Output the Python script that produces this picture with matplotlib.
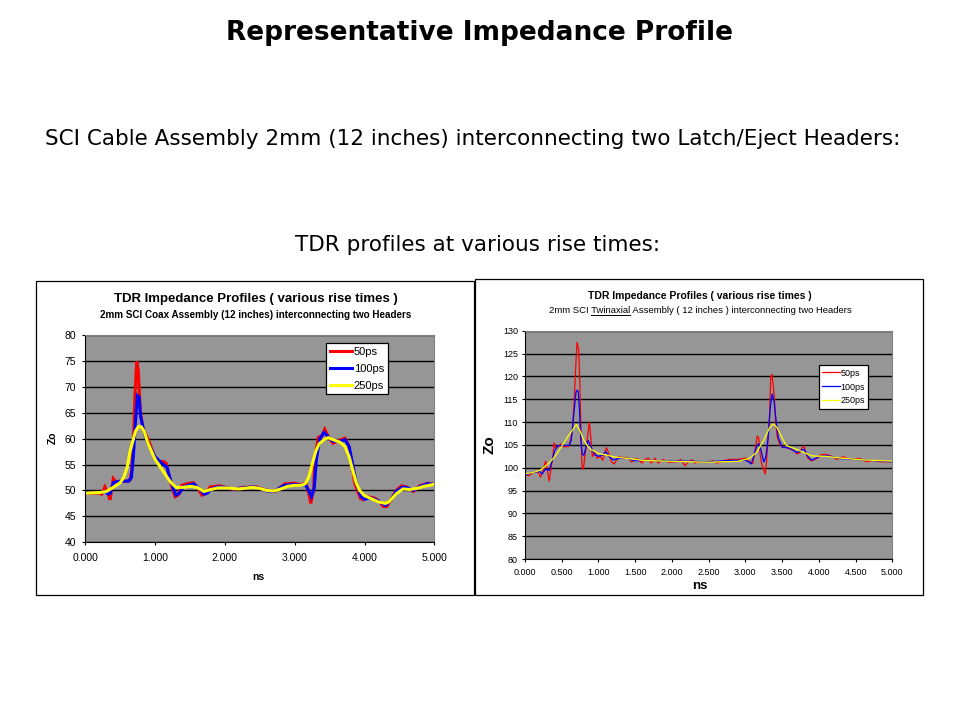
import numpy as np
import matplotlib
matplotlib.use("Agg")
import matplotlib.pyplot as plt
from matplotlib.lines import Line2D
from matplotlib.patches import Rectangle
from matplotlib.ticker import FormatStrFormatter, MultipleLocator

# --- left chart: 2mm SCI coax assembly (Zo vs ns)
coax_50_ns = [0.00, 0.10, 0.21, 0.235, 0.28, 0.33, 0.354, 0.40, 0.45, 0.50,
              0.59, 0.64, 0.665, 0.69, 0.71, 0.736, 0.76, 0.774, 0.79, 0.83,
              0.88, 0.93, 1.00, 1.05, 1.12, 1.16, 1.19, 1.24, 1.285, 1.33,
              1.38, 1.45, 1.55, 1.60, 1.67, 1.71, 1.79, 1.93, 2.12, 2.26,
              2.45, 2.58, 2.72, 2.86, 3.00, 3.10, 3.16, 3.20, 3.23, 3.27,
              3.29, 3.34, 3.39, 3.43, 3.48, 3.55, 3.62, 3.72, 3.77, 3.82,
              3.86, 3.94, 3.98, 4.05, 4.15, 4.22, 4.27, 4.32, 4.39, 4.46,
              4.53, 4.60, 4.70, 4.79, 4.91, 5.00]
coax_50_zo = [49.6, 49.5, 49.5, 49.3, 50.7, 49.1, 48.2, 52.3, 51.5, 51.8,
              51.8, 52.0, 54.0, 59.7, 68.1, 74.9, 73.0, 68.7, 65.0, 61.7,
              60.4, 58.8, 56.2, 55.6, 55.6, 55.2, 53.3, 50.7, 48.8, 49.1,
              51.0, 51.3, 51.5, 50.7, 49.1, 49.3, 50.7, 50.9, 50.2, 50.6,
              50.7, 50.1, 49.8, 51.3, 51.4, 51.1, 51.5, 49.5, 47.5, 50.1,
              56.5, 60.3, 60.5, 61.8, 60.4, 59.1, 59.6, 60.1, 58.8, 55.2,
              51.4, 48.5, 48.2, 48.8, 48.5, 47.8, 46.9, 46.9, 48.5, 50.1,
              50.9, 50.7, 49.8, 50.9, 51.4, 51.1]

coax_100_ns = [0.00, 0.20, 0.28, 0.33, 0.36, 0.40, 0.45, 0.50, 0.62, 0.66,
               0.69, 0.72, 0.745, 0.77, 0.79, 0.82, 0.86, 0.90, 1.00, 1.10,
               1.17, 1.22, 1.27, 1.30, 1.35, 1.40, 1.50, 1.55, 1.62, 1.70,
               1.75, 1.80, 1.90, 2.00, 2.10, 2.20, 2.30, 2.40, 2.50, 2.60,
               2.70, 2.85, 3.00, 3.10, 3.15, 3.20, 3.24, 3.28, 3.31, 3.36,
               3.42, 3.47, 3.55, 3.65, 3.72, 3.78, 3.83, 3.88, 3.95, 4.00,
               4.08, 4.20, 4.30, 4.38, 4.46, 4.55, 4.62, 4.70, 4.80, 4.90,
               5.00]
coax_100_zo = [49.6, 49.6, 49.8, 49.3, 49.5, 51.5, 51.7, 51.8, 51.8, 52.5,
               57.0, 63.6, 68.3, 68.0, 64.5, 62.5, 60.5, 59.0, 56.5, 55.2,
               54.5, 52.0, 50.0, 49.1, 49.5, 50.7, 51.1, 51.3, 50.5, 49.3,
               49.5, 50.3, 50.7, 50.6, 50.3, 50.4, 50.5, 50.7, 50.4, 49.9,
               49.8, 51.0, 51.2, 51.0, 51.2, 50.0, 48.8, 50.5, 56.0, 60.0,
               61.2, 60.5, 59.5, 59.5, 59.8, 58.5, 55.0, 51.5, 48.8, 48.3,
               48.6, 48.0, 47.1, 48.2, 49.9, 50.7, 50.5, 50.0, 50.8, 51.3,
               51.2]

coax_250_ns = [0.00, 0.20, 0.30, 0.40, 0.50, 0.55, 0.60, 0.64, 0.68, 0.72,
               0.76, 0.80, 0.84, 0.90, 0.95, 1.00, 1.10, 1.20, 1.25, 1.30,
               1.40, 1.50, 1.60, 1.70, 1.80, 1.90, 2.00, 2.20, 2.40, 2.50,
               2.60, 2.70, 2.80, 2.90, 3.00, 3.10, 3.15, 3.20, 3.25, 3.30,
               3.35, 3.42, 3.48, 3.55, 3.65, 3.72, 3.78, 3.83, 3.88, 3.93,
               4.00, 4.10, 4.20, 4.30, 4.35, 4.45, 4.55, 4.65, 4.75, 4.85,
               5.00]
coax_250_zo = [49.5, 49.6, 49.8, 50.6, 51.5, 52.5, 54.5, 57.5, 59.5, 61.5,
               62.3, 62.3, 61.5, 59.0, 57.5, 56.0, 54.0, 52.0, 51.2, 50.6,
               50.6, 50.8, 50.6, 49.8, 50.2, 50.5, 50.5, 50.3, 50.6, 50.4,
               50.0, 49.9, 50.3, 50.8, 51.0, 51.0, 51.3, 52.5, 55.0, 57.5,
               59.0, 59.8, 60.2, 59.8, 59.3, 58.5, 56.5, 54.0, 51.5, 50.0,
               49.0, 48.4, 47.8, 47.5, 47.8, 49.3, 50.3, 50.2, 50.4, 50.8,
               51.2]

# --- right chart: 2mm SCI twinaxial assembly
twin_50_ns = [0.00, 0.045, 0.11, 0.18, 0.21, 0.25, 0.28, 0.31, 0.33, 0.35,
              0.38, 0.395, 0.42, 0.45, 0.485, 0.52, 0.59, 0.61, 0.645, 0.667,
              0.69, 0.708, 0.73, 0.744, 0.762, 0.776, 0.794, 0.82, 0.84, 0.862,
              0.876, 0.894, 0.917, 0.953, 0.985, 1.02, 1.057, 1.09, 1.11, 1.18,
              1.215, 1.27, 1.34, 1.41, 1.45, 1.50, 1.54, 1.59, 1.63, 1.68,
              1.72, 1.77, 1.81, 1.88, 1.95, 2.065, 2.12, 2.18, 2.22, 2.28,
              2.31, 2.36, 2.50, 2.56, 2.61, 2.66, 2.77, 2.90, 3.00, 3.06,
              3.10, 3.13, 3.16, 3.18, 3.20, 3.22, 3.25, 3.27, 3.285, 3.31,
              3.33, 3.345, 3.36, 3.375, 3.394, 3.41, 3.433, 3.47, 3.506, 3.54,
              3.607, 3.667, 3.70, 3.74, 3.775, 3.80, 3.824, 3.856, 3.90, 3.97,
              4.04, 4.10, 4.20, 4.24, 4.33, 4.42, 4.56, 4.65, 4.74, 4.83,
              4.92, 5.00]
twin_50_zo = [98.6, 98.2, 98.9, 99.1, 97.9, 99.5, 101.5, 98.8, 97.0, 99.5,
              102.4, 105.5, 104.2, 104.6, 105.2, 104.6, 104.6, 105.3, 108.2, 114.1,
              122.1, 127.5, 125.8, 119.9, 108.2, 100.2, 99.6, 103.1, 105.3, 108.2,
              110.0, 106.8, 102.4, 103.3, 102.0, 102.6, 101.6, 103.5, 104.4, 101.2,
              100.8, 102.4, 102.2, 102.1, 101.2, 101.9, 101.9, 101.0, 101.8, 102.1,
              101.0, 102.1, 101.0, 101.8, 101.2, 101.3, 101.8, 100.4, 101.3, 101.7,
              101.0, 101.3, 101.3, 101.5, 101.0, 101.3, 101.8, 101.8, 102.1, 101.3,
              100.9, 103.5, 106.9, 106.6, 103.1, 100.9, 99.5, 98.6, 100.9, 106.8,
              111.9, 119.9, 120.5, 118.5, 115.6, 110.4, 106.8, 105.0, 104.6, 104.5,
              104.1, 103.7, 103.0, 103.3, 104.5, 104.7, 103.1, 102.0, 101.5, 102.0,
              102.9, 102.9, 102.4, 101.8, 102.4, 101.8, 102.0, 101.3, 101.6, 101.3,
              101.3, 101.3]

twin_100_ns = [0.00, 0.10, 0.20, 0.23, 0.28, 0.33, 0.36, 0.40, 0.44, 0.50,
               0.60, 0.63, 0.66, 0.694, 0.71, 0.725, 0.74, 0.76, 0.78, 0.80,
               0.83, 0.86, 0.90, 0.95, 1.00, 1.05, 1.10, 1.14, 1.20, 1.30,
               1.40, 1.50, 1.60, 2.00, 2.50, 2.80, 3.00, 3.05, 3.08, 3.15,
               3.18, 3.21, 3.25, 3.28, 3.31, 3.34, 3.365, 3.39, 3.42, 3.45,
               3.50, 3.60, 3.70, 3.77, 3.80, 3.85, 3.90, 4.00, 4.10, 4.20,
               4.30, 4.50, 4.80, 5.00]
twin_100_zo = [98.5, 98.9, 99.2, 98.6, 99.7, 99.4, 101.0, 103.5, 104.8, 104.8,
               104.9, 106.0, 111.0, 116.6, 117.0, 116.6, 113.0, 106.0, 103.0, 102.7,
               104.5, 106.0, 104.5, 102.8, 102.5, 102.7, 103.5, 102.5, 101.7, 102.1,
               102.0, 101.5, 101.6, 101.5, 101.3, 101.6, 101.6, 101.2, 100.8, 104.5,
               105.3, 104.0, 101.2, 102.5, 106.7, 113.5, 116.2, 114.5, 110.0, 106.5,
               104.5, 104.3, 103.3, 103.9, 104.0, 102.5, 101.6, 102.4, 102.7, 102.3,
               102.0, 101.8, 101.5, 101.3]

twin_250_ns = [0.00, 0.10, 0.20, 0.30, 0.40, 0.50, 0.60, 0.65, 0.70, 0.75,
               0.80, 0.85, 0.90, 1.00, 1.10, 1.20, 1.40, 1.60, 2.00, 2.50,
               2.90, 3.05, 3.15, 3.25, 3.33, 3.38, 3.43, 3.50, 3.55, 3.60,
               3.70, 3.80, 3.90, 4.00, 4.10, 4.30, 4.60, 5.05]
twin_250_zo = [98.7, 98.9, 99.4, 100.6, 102.3, 104.7, 107.2, 108.3, 109.5, 108.0,
               106.0, 104.8, 104.0, 103.1, 102.8, 102.4, 102.0, 101.6, 101.4, 101.2,
               101.4, 102.0, 103.3, 106.0, 108.8, 109.6, 108.8, 106.5, 105.0, 104.6,
               104.0, 103.3, 102.6, 102.5, 102.5, 102.1, 101.7, 101.4]

rise_labels = ["50ps", "100ps", "250ps"]
rise_colors = ["#ff0000", "#0000ff", "#ffff00"]

CHART_FONT = "Liberation Sans"
SLIDE_FONT = "DejaVu Sans"
PANEL = "#969696"


def _style_panel(ax, ylim, ystep, xstep, labelsize, xpad, ypad):
    ax.set_facecolor(PANEL)
    ax.set_xlim(0, 5)
    ax.set_ylim(*ylim)
    ax.xaxis.set_major_locator(MultipleLocator(xstep))
    ax.yaxis.set_major_locator(MultipleLocator(ystep))
    ax.xaxis.set_major_formatter(FormatStrFormatter("%.3f"))
    ax.yaxis.set_major_formatter(FormatStrFormatter("%d"))
    ax.tick_params(direction="out", length=2.5, width=0.8, labelsize=labelsize)
    ax.tick_params(axis="x", pad=xpad)
    ax.tick_params(axis="y", pad=ypad)
    for lab in ax.get_xticklabels() + ax.get_yticklabels():
        lab.set_fontfamily(CHART_FONT)
    for side in ("top", "right"):
        ax.spines[side].set_color("#808080")
    for side in ("left", "bottom"):
        ax.spines[side].set_color("black")
    ax.yaxis.grid(True, color="black", lw=1.0)
    ax.set_axisbelow(True)


def _plot_series(ax, series, lw):
    for (ns, zo), label, col in zip(series, rise_labels, rise_colors):
        ax.plot(ns, zo, color=col, lw=lw, label=label, solid_joinstyle="miter")


def _legend(ax, anchor, fontsize, handlelength, labelspacing, textpad):
    leg = ax.legend(loc="upper left", bbox_to_anchor=anchor, borderaxespad=0,
                    fancybox=False, framealpha=1, edgecolor="black",
                    prop={"family": CHART_FONT, "size": fontsize},
                    handlelength=handlelength, handletextpad=textpad,
                    labelspacing=labelspacing, borderpad=0.35)
    leg.get_frame().set_linewidth(0.9)
    return leg


fig = plt.figure(figsize=(9.6, 7.2), dpi=100)

# slide texts
fig.text(0.5, 0.954, "Representative Impedance Profile", ha="center",
         va="center", fontsize=19, fontweight="bold", family=SLIDE_FONT)
fig.text(0.4927, 0.807,
         "SCI Cable Assembly 2mm (12 inches) interconnecting two Latch/Eject Headers:",
         ha="center", va="center", fontsize=15.5, family=SLIDE_FONT)
fig.text(0.497, 0.660, "TDR profiles at various rise times:", ha="center",
         va="center", fontsize=15.5, family=SLIDE_FONT)

# chart frames
fig.add_artist(Rectangle((0.0375, 0.1736), 0.456, 0.436, transform=fig.transFigure,
                         fill=False, edgecolor="black", lw=0.9))
fig.add_artist(Rectangle((0.4948, 0.1736), 0.4667, 0.4389, transform=fig.transFigure,
                         fill=False, edgecolor="black", lw=0.9))

# --- left chart
ax1 = fig.add_axes([0.0889, 0.2468, 0.3635, 0.2879])
_plot_series(ax1, [(coax_50_ns, coax_50_zo), (coax_100_ns, coax_100_zo),
                   (coax_250_ns, coax_250_zo)], lw=2.2)
_style_panel(ax1, (40, 80), 5, 1.0, 7.5, xpad=5.5, ypad=4)
_legend(ax1, (0.690, 0.960), 8, 2.0, 0.6, 0.15)
fig.text(0.2667, 0.5847, "TDR Impedance Profiles ( various rise times )",
         ha="center", va="center", fontsize=9.5, fontweight="bold", family=CHART_FONT)
fig.text(0.2667, 0.5629,
         "2mm SCI Coax Assembly (12 inches) interconnecting two Headers",
         ha="center", va="center", fontsize=7.1, fontweight="bold", family=CHART_FONT)
fig.text(0.2695, 0.199, "ns", ha="center", va="center", fontsize=7.5,
         fontweight="bold", family=CHART_FONT)
fig.text(0.0552, 0.3917, "Zo", ha="center", va="center", rotation=90,
         fontsize=7.5, fontweight="bold", family=CHART_FONT)

# --- right chart
ax2 = fig.add_axes([0.5469, 0.2236, 0.3826, 0.3171])
_plot_series(ax2, [(twin_50_ns, twin_50_zo), (twin_100_ns, twin_100_zo),
                   (twin_250_ns, twin_250_zo)], lw=0.9)
_style_panel(ax2, (80, 130), 5, 0.5, 6.5, xpad=4, ypad=2.5)
_legend(ax2, (0.801, 0.848), 6.5, 1.9, 0.55, 0.1)
fig.text(0.729, 0.589, "TDR Impedance Profiles ( various rise times )",
         ha="center", va="center", fontsize=7.5, fontweight="bold", family=CHART_FONT)
sub_text = "2mm SCI Twinaxial Assembly ( 12 inches ) interconnecting two Headers"
sub = fig.text(0.7292, 0.5685, sub_text, ha="center", va="center",
               fontsize=6.8, family=CHART_FONT)
fig.text(0.729, 0.186, "ns", ha="center", va="center", fontsize=9.5,
         fontweight="bold", family=CHART_FONT)
fig.text(0.5104, 0.3824, "Zo", ha="center", va="center", rotation=90,
         fontsize=11, fontweight="bold", family=CHART_FONT)

# underline "Twinaxial" in the subtitle
renderer = fig.canvas.get_renderer()
bb = sub.get_window_extent(renderer)


def _text_width(s):
    t = fig.text(0, 0, s, fontsize=sub.get_fontsize(), family=CHART_FONT)
    w = t.get_window_extent(renderer).width
    t.remove()
    return w


x_end = bb.x0 + _text_width("2mm SCI Twinaxial")
x_start = x_end - _text_width("Twinaxial")
y_line = bb.y0 + 0.5
W, H = fig.bbox.width, fig.bbox.height
fig.add_artist(Line2D([x_start / W, x_end / W], [y_line / H, y_line / H],
                      transform=fig.transFigure, color="black", lw=0.7))

fig.savefig("out.png", dpi=100)
